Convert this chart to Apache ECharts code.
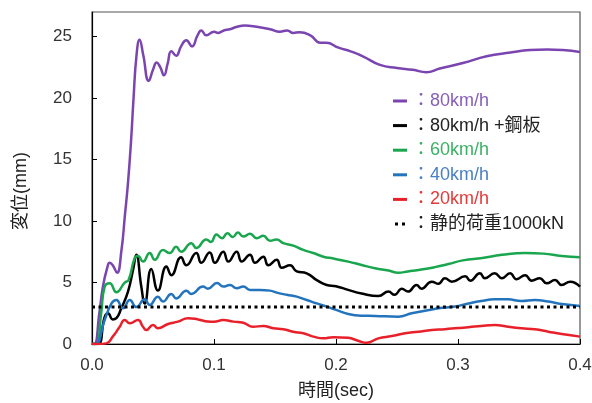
<!DOCTYPE html>
<html lang="ja">
<head>
    <meta charset="utf-8">
    <script src="https://cdn.jsdelivr.net/npm/echarts@6/dist/echarts.min.js"></script>
    <style>
        html, body { margin:0; padding:0; background:#fff; }
        #main { width:592px; height:403px; }
    </style>
</head>
<body>
<div id="main"></div>
<script type="text/javascript">
    // [時間(sec), 変位(mm)]
    var speed80 = [[0,0],[0.002,0],[0.006,2.5],[0.009,4.7],[0.0125,6.2],[0.0145,6.6],[0.017,6.4],[0.0205,5.8],[0.024,7.5],[0.027,10.5],[0.0295,13.1],[0.032,16.5],[0.034,19.9],[0.0365,23.5],[0.039,24.75],[0.042,23.5],[0.0465,21.4],[0.05,22.3],[0.053,22.9],[0.056,22.5],[0.059,21.85],[0.062,22.8],[0.065,23.8],[0.069,23.45],[0.073,24.2],[0.0773,24.7],[0.082,24.2],[0.0865,25.1],[0.0896,25.5],[0.0937,25.1],[0.1,25.4],[0.1035,25.3],[0.108,25.5],[0.113,25.6],[0.119,25.8],[0.125,25.9],[0.135,25.8],[0.146,25.6],[0.154,25.4],[0.16,25.5],[0.165,25.3],[0.17,25.35],[0.179,25.1],[0.187,24.5],[0.192,24.5],[0.202,24.1],[0.212,23.8],[0.222,23.4],[0.236,22.7],[0.25,22.45],[0.263,22.3],[0.274,22.1],[0.285,22.4],[0.304,22.85],[0.3235,23.4],[0.343,23.7],[0.359,23.9],[0.373,23.95],[0.386,23.9],[0.4,23.75]];
    var speed80Plate = [[0,0],[0.005,0],[0.0104,2.2],[0.0131,2.5],[0.017,2.0],[0.02,2.1],[0.024,2.9],[0.0295,4.26],[0.0336,6.0],[0.0363,7.25],[0.0404,4.67],[0.0432,3.3],[0.0486,6.1],[0.054,4.35],[0.061,6.3],[0.065,5.6],[0.073,7.05],[0.0773,6.4],[0.0855,7.4],[0.0896,6.6],[0.0965,7.45],[0.1008,6.6],[0.1076,7.5],[0.1117,6.7],[0.1186,7.5],[0.1227,6.7],[0.1295,7.25],[0.1336,6.6],[0.1404,7.1],[0.1445,6.4],[0.1514,6.85],[0.1555,6.2],[0.1623,6.4],[0.1678,5.9],[0.176,5.75],[0.1842,5.2],[0.1924,4.8],[0.2,4.7],[0.21,4.4],[0.221,4.1],[0.2347,3.9],[0.243,4.26],[0.248,4.0],[0.254,4.5],[0.259,4.26],[0.266,4.8],[0.27,4.5],[0.2785,5.07],[0.284,4.9],[0.2893,5.35],[0.295,5.07],[0.306,5.5],[0.31,5.15],[0.318,5.75],[0.322,5.35],[0.33,5.75],[0.336,5.35],[0.3426,5.75],[0.348,5.27],[0.355,5.6],[0.3604,5.15],[0.367,5.35],[0.3727,4.94],[0.3795,5.2],[0.385,4.8],[0.392,5.07],[0.4,4.67]];
    var speed60 = [[0,0],[0.0035,0],[0.0075,2.5],[0.0104,4.67],[0.0145,4.94],[0.02,4.2],[0.0268,5.0],[0.03,5.2],[0.035,7.0],[0.0377,7.15],[0.0418,6.7],[0.0473,7.4],[0.0514,6.85],[0.0582,7.65],[0.0637,7.4],[0.069,7.9],[0.073,7.5],[0.0814,8.2],[0.0855,7.8],[0.0937,8.5],[0.0975,8.3],[0.102,8.9],[0.1065,8.6],[0.111,9.0],[0.1155,8.7],[0.1195,9.07],[0.124,8.74],[0.1295,8.96],[0.135,8.6],[0.1404,8.8],[0.1459,8.4],[0.1514,8.5],[0.1568,8.2],[0.165,8.0],[0.1732,7.65],[0.1814,7.4],[0.1896,7.1],[0.1978,6.95],[0.21,6.7],[0.221,6.43],[0.232,6.16],[0.243,5.97],[0.251,5.8],[0.259,5.9],[0.27,6.05],[0.281,6.25],[0.292,6.5],[0.304,6.8],[0.32,7.0],[0.336,7.25],[0.355,7.4],[0.37,7.35],[0.385,7.15],[0.4,7.06]];
    var speed40 = [[0,0],[0.003,0],[0.0104,1.95],[0.016,3.3],[0.02,3.58],[0.0254,2.9],[0.031,3.58],[0.0363,3.0],[0.0432,3.63],[0.0473,3.18],[0.054,3.85],[0.0582,3.45],[0.065,4.07],[0.069,3.7],[0.0773,4.34],[0.0814,4.07],[0.091,4.67],[0.095,4.5],[0.1025,4.97],[0.1076,4.67],[0.113,4.8],[0.1186,4.53],[0.124,4.67],[0.1295,4.4],[0.1377,4.4],[0.1459,4.34],[0.1514,4.18],[0.1596,4.0],[0.1678,3.85],[0.176,3.58],[0.1842,3.3],[0.1924,3.04],[0.2,2.77],[0.21,2.44],[0.221,2.3],[0.232,2.28],[0.251,2.22],[0.262,2.5],[0.273,2.7],[0.284,2.9],[0.2975,3.05],[0.3085,3.3],[0.319,3.5],[0.33,3.63],[0.341,3.63],[0.352,3.5],[0.363,3.58],[0.374,3.45],[0.385,3.26],[0.4,3.1]];
    var speed20 = [[0,0],[0.005,0],[0.0117,0.05],[0.017,0.6],[0.0227,1.4],[0.0268,1.95],[0.031,1.68],[0.0377,1.95],[0.0418,1.4],[0.0445,1.14],[0.05,1.55],[0.054,1.28],[0.0623,1.63],[0.0705,1.82],[0.0787,2.1],[0.0869,2.0],[0.095,1.82],[0.1,1.8],[0.1076,1.95],[0.1158,1.82],[0.124,1.73],[0.132,1.4],[0.1404,1.47],[0.1486,1.28],[0.1568,1.2],[0.165,1.0],[0.1732,0.87],[0.1814,0.6],[0.1896,0.46],[0.1978,0.55],[0.21,0.5],[0.218,0.27],[0.225,0.1],[0.2347,0.46],[0.2457,0.65],[0.2566,0.87],[0.2675,1.0],[0.2785,1.14],[0.2893,1.2],[0.3,1.3],[0.3085,1.36],[0.319,1.47],[0.33,1.55],[0.341,1.4],[0.352,1.28],[0.363,1.2],[0.374,1.0],[0.385,0.81],[0.4,0.6]];
    var staticLoad = [[0,3],[0.4,3]];

    var names = ['80km/h', '80km/h +鋼板', '60km/h', '40km/h', '20km/h', '静的荷重1000kN'];
    var yTicks = [0, 5, 10, 15, 20, 25];

    var font = "'Liberation Sans', 'Noto Sans CJK JP', sans-serif";
    var myChart = echarts.init(document.getElementById('main'));

    function lineSeries(name, data, color) {
        return {
            name: name,
            type: 'line',
            data: data,
            smooth: 0.5,
            showSymbol: false,
            color: color,
            lineStyle: { color: color, width: 2.5 }
        };
    }

    myChart.setOption({
        animation: false,
        textStyle: { fontFamily: font },
        grid: {
            left: 92, right: 12, top: 12, bottom: 59,
            outerBoundsMode: 'none',
            show: true, borderColor: '#555', borderWidth: 1.2
        },
        legend: {
            orient: 'vertical',
            left: 388,
            top: 86,
            itemWidth: 14,
            itemHeight: 3,
            itemGap: 4.6,
            selectedMode: false,
            formatter: function (n) { return '：' + n; },
            textStyle: { fontSize: 18, lineHeight: 20, fontFamily: font },
            data: [
                { name: names[0], icon: 'rect', textStyle: { color: '#8560b8' } },
                { name: names[1], icon: 'rect', textStyle: { color: '#222' } },
                { name: names[2], icon: 'rect', textStyle: { color: '#3cb064' } },
                { name: names[3], icon: 'rect', textStyle: { color: '#4a80c4' } },
                { name: names[4], icon: 'rect', textStyle: { color: '#e23a3a' } },
                { name: names[5], icon: 'path://M0,0h3v3h-3z M7,0h3v3h-3z', textStyle: { color: '#222' } }
            ]
        },
        xAxis: {
            type: 'value',
            min: 0,
            max: 0.4,
            interval: 0.1,
            name: '時間(sec)',
            nameLocation: 'middle',
            nameGap: 38,
            nameTextStyle: { fontSize: 18, color: '#222' },
            axisLine: { lineStyle: { color: '#000', width: 1.2 } },
            axisTick: { inside: true, length: 5, lineStyle: { color: '#000' } },
            axisLabel: { fontSize: 17, color: '#333', margin: 13, formatter: function (v) { return v.toFixed(1); } },
            splitLine: { show: false }
        },
        yAxis: {
            type: 'value',
            min: 0,
            max: 27,
            interval: 5,
            name: '変位(mm)',
            nameLocation: 'middle',
            nameGap: 62,
            nameTextStyle: { fontSize: 18, color: '#222', padding: [0, 26, 0, 0] },
            axisLine: { show: true, lineStyle: { color: '#000', width: 1.2 } },
            axisTick: { show: true, inside: true, length: 5, customValues: yTicks, lineStyle: { color: '#000' } },
            axisLabel: { fontSize: 17, color: '#333', margin: 20, customValues: yTicks },
            splitLine: { show: false }
        },
        series: [
            lineSeries(names[0], speed80, '#7a45b0'),
            lineSeries(names[1], speed80Plate, '#000000'),
            lineSeries(names[2], speed60, '#1aa64e'),
            lineSeries(names[3], speed40, '#2474bd'),
            lineSeries(names[4], speed20, '#e8202a'),
            {
                name: names[5],
                type: 'line',
                data: staticLoad,
                showSymbol: false,
                color: '#000',
                lineStyle: { color: '#000', width: 3, type: [3, 3.5] }
            }
        ]
    });
</script>
</body>
</html>
